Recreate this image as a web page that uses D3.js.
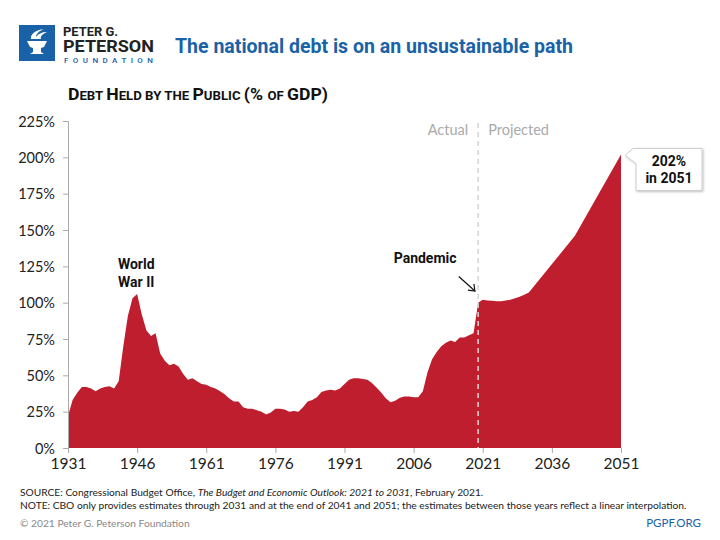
<!DOCTYPE html>
<html>
<head>
<meta charset="utf-8">
<script src="https://cdn.jsdelivr.net/npm/d3@7"></script>
<style>
  body { margin: 0; background: #fff; }
  svg { display: block; }
</style>
</head>
<body>
<div id="wrapper"></div>
<script>
// debt held by the public, % of GDP
const years = [
  1931, 1932, 1933, 1934, 1935, 1936, 1937, 1938, 1939, 1940,
  1941, 1942, 1943, 1944, 1945, 1946, 1947, 1948, 1949, 1950,
  1951, 1952, 1953, 1954, 1955, 1956, 1957, 1958, 1959, 1960,
  1961, 1962, 1963, 1964, 1965, 1966, 1967, 1968, 1969, 1970,
  1971, 1972, 1973, 1974, 1975, 1976, 1977, 1978, 1979, 1980,
  1981, 1982, 1983, 1984, 1985, 1986, 1987, 1988, 1989, 1990,
  1991, 1992, 1993, 1994, 1995, 1996, 1997, 1998, 1999, 2000,
  2001, 2002, 2003, 2004, 2005, 2006, 2007, 2008, 2009, 2010,
  2011, 2012, 2013, 2014, 2015, 2016, 2017, 2018, 2019, 2020,
  2021, 2022, 2023, 2024, 2025, 2026, 2027, 2028, 2029, 2030,
  2031, 2041, 2051
];
const debt = [
  22, 33, 38, 42, 42, 41, 39, 41, 42, 42.5,
  41, 46, 70, 91, 103, 106, 92, 81, 77, 79,
  65, 60, 57, 58, 56, 51, 47, 48, 46, 44,
  43.5, 42, 41, 39, 37, 34, 32, 32, 28, 27,
  27, 26, 25, 23, 24.5, 27, 27, 26.5, 25, 25.5,
  25, 28, 32, 33, 35, 38.5, 39.5, 40, 39.5, 41,
  44, 47, 48, 48, 47.5, 47, 44.5, 41.5, 38, 34,
  31.5, 32.5, 34.5, 35.5, 35.5, 35, 35, 39, 52, 61,
  66, 70, 72.5, 74, 73, 76, 76, 77.5, 79, 100,
  102, 101.5, 101.3, 101, 101, 101.5, 102, 103, 104, 105.5,
  107, 146, 202
];
const yTicks = [0, 25, 50, 75, 100, 125, 150, 175, 200, 225];
const xTicks = [1931, 1946, 1961, 1976, 1991, 2006, 2021, 2036, 2051];
const splitYear = 2020;

const dataset = years.map((y, i) => ({ year: y, value: debt[i] }));

const red = "#be1e2d";
const blue = "#1a62a8";

let dimensions = {
  width: 720,
  height: 540,
  margin: { top: 121, right: 99, bottom: 92, left: 68 },
};
dimensions.boundedWidth = dimensions.width - dimensions.margin.left - dimensions.margin.right;
dimensions.boundedHeight = dimensions.height - dimensions.margin.top - dimensions.margin.bottom;

const wrapper = d3.select("#wrapper")
  .append("svg")
  .attr("width", dimensions.width)
  .attr("height", dimensions.height)
  .style("font-family", "Lato, 'Open Sans', sans-serif");

// shrink a text's font until it fits a width
function fitWidth(sel, width) {
  const node = sel.node();
  let size = parseFloat(sel.attr("font-size"));
  const w = node.getComputedTextLength();
  if (w > width) sel.attr("font-size", (size * width / w).toFixed(2));
  return sel;
}

// header / logo
const logo = wrapper.append("g");
logo.append("rect")
  .attr("x", 19).attr("y", 25).attr("width", 36).attr("height", 36)
  .attr("fill", blue);
// torch
logo.append("path")
  .attr("d", "M27,41 L47,41 L44,47 L41,48 L41,52 L44,54 L30,54 L33,52 L33,48 L30,47 Z")
  .attr("fill", "#fff");
logo.append("path")
  .attr("d", "M31,39 C30,34 36,30 44,29 C39,31 36,34 36,37 C38,34 42,32 47,32 C42,34 40,37 41,39 Z")
  .attr("fill", "#fff");

logo.append("text").attr("x", 63).attr("y", 35.5)
  .attr("font-family", "Roboto, sans-serif").attr("font-weight", 700)
  .attr("font-size", 13.5).attr("fill", "#222")
  .attr("textLength", 55).attr("lengthAdjust", "spacingAndGlyphs")
  .text("PETER G.");
logo.append("text").attr("x", 63).attr("y", 52)
  .attr("font-family", "Roboto, sans-serif").attr("font-weight", 700)
  .attr("font-size", 16.5).attr("fill", "#222")
  .attr("textLength", 91).attr("lengthAdjust", "spacingAndGlyphs")
  .text("PETERSON");
logo.append("text").attr("x", 64).attr("y", 62.5)
  .attr("font-family", "Roboto, sans-serif").attr("font-weight", 500)
  .attr("font-size", 8).attr("fill", blue)
  .attr("textLength", 89).attr("lengthAdjust", "spacing")
  .text("FOUNDATION");

wrapper.append("text")
  .attr("x", 175).attr("y", 53)
  .attr("font-family", "Roboto, sans-serif").attr("font-weight", 700)
  .attr("font-size", 20).attr("fill", blue)
  .attr("textLength", 398).attr("lengthAdjust", "spacingAndGlyphs")
  .text("The national debt is on an unsustainable path");

// subtitle in small caps
const subtitle = wrapper.append("text")
  .attr("x", 68).attr("y", 100)
  .attr("font-family", "Roboto, sans-serif").attr("font-weight", 700)
  .attr("fill", "#111")
  .attr("textLength", 260).attr("lengthAdjust", "spacingAndGlyphs");
[["D", 16], ["EBT ", 12], ["H", 16], ["ELD BY THE ", 12], ["P", 16],
 ["UBLIC ", 12], ["(% ", 16], ["OF ", 12], ["GDP)", 16]]
  .forEach(([t, s]) => subtitle.append("tspan").attr("font-size", s).text(t));

const bounds = wrapper.append("g")
  .style("transform", `translate(${dimensions.margin.left}px, ${dimensions.margin.top}px)`);

// scales
const xAccessor = d => d.year;
const yAccessor = d => d.value;

const xScale = d3.scaleLinear()
  .domain([1931, 2051])
  .range([0, dimensions.boundedWidth]);

const yScale = d3.scaleLinear()
  .domain([0, 225])
  .range([dimensions.boundedHeight, 0]);

const area = d3.area()
  .x(d => xScale(xAccessor(d)))
  .y0(yScale(0))
  .y1(d => yScale(yAccessor(d)));

bounds.append("path")
  .datum(dataset)
  .attr("d", area)
  .attr("fill", red);

// axes
const yAxis = bounds.append("g")
  .call(d3.axisLeft(yScale).tickValues(yTicks).tickSize(5).tickFormat(d => d + "%"));
const xAxis = bounds.append("g")
  .style("transform", `translateY(${dimensions.boundedHeight}px)`)
  .call(d3.axisBottom(xScale).tickValues(xTicks).tickSize(5).tickFormat(d3.format("d")));

[yAxis, xAxis].forEach(ax => {
  ax.select(".domain").attr("stroke", "#aaa");
  ax.selectAll(".tick line").attr("stroke", "#aaa");
  ax.selectAll("text").attr("fill", "#222").attr("font-size", 14.5)
    .attr("font-family", "Lato, sans-serif");
});
yAxis.selectAll("text").attr("x", -13).attr("dy", "0.35em");
xAxis.selectAll("text").attr("y", 10).attr("font-size", 15.5);
xAxis.select(".domain").remove();

// actual / projected split
const splitX = xScale(splitYear);
bounds.append("line")
  .attr("x1", splitX).attr("x2", splitX)
  .attr("y1", 2).attr("y2", dimensions.boundedHeight)
  .attr("stroke", "#d4d4d4").attr("stroke-width", 1.5)
  .attr("stroke-dasharray", "5,4");
bounds.append("text")
  .attr("x", splitX - 10).attr("y", 14)
  .attr("text-anchor", "end").attr("font-size", 14.5).attr("fill", "#aaa")
  .text("Actual");
bounds.append("text")
  .attr("x", splitX + 10).attr("y", 14)
  .attr("font-size", 14.5).attr("fill", "#aaa")
  .text("Projected");

// annotations
const wwii = bounds.append("text")
  .attr("text-anchor", "middle").attr("font-weight", 700)
  .attr("font-size", 14).attr("fill", "#111")
  .attr("font-family", "Roboto, sans-serif");
wwii.append("tspan").attr("x", xScale(1945.8)).attr("y", yScale(123)).text("World");
wwii.append("tspan").attr("x", xScale(1945.8)).attr("y", yScale(111)).text("War II");

bounds.append("text")
  .attr("x", xScale(2008.5)).attr("y", yScale(127))
  .attr("text-anchor", "middle").attr("font-weight", 700)
  .attr("font-size", 14).attr("fill", "#111")
  .attr("font-family", "Roboto, sans-serif")
  .text("Pandemic");

// arrow
const ax1 = xScale(2015.8), ay1 = yScale(118);
const ax2 = xScale(2019.3), ay2 = yScale(108);
bounds.append("line")
  .attr("x1", ax1).attr("y1", ay1).attr("x2", ax2).attr("y2", ay2)
  .attr("stroke", "#111").attr("stroke-width", 1.2);
bounds.append("path")
  .attr("d", `M${ax2 - 7},${ay2 - 1} L${ax2},${ay2} L${ax2 - 1},${ay2 - 7}`)
  .attr("fill", "none").attr("stroke", "#111").attr("stroke-width", 1.2);

// callout for the last value
const last = dataset[dataset.length - 1];
const px = xScale(last.year) + 4, py = yScale(last.value) + 1;
const bx = px + 11, by = py - 7, bw = 66, bh = 42;
const defs = wrapper.append("defs");
defs.append("filter").attr("id", "shadow")
  .attr("x", "-20%").attr("y", "-20%").attr("width", "150%").attr("height", "150%")
  .append("feDropShadow")
  .attr("dx", 1).attr("dy", 1).attr("stdDeviation", 1.2)
  .attr("flood-color", "#000").attr("flood-opacity", 0.25);
bounds.append("path")
  .attr("d", `M${bx},${by} L${bx + bw},${by} L${bx + bw},${by + bh} L${bx},${by + bh} L${bx},${py + 8} L${px},${py} L${bx - 3},${by} Z`)
  .attr("fill", "#fff").attr("stroke", "#ccc").attr("stroke-width", 1)
  .attr("filter", "url(#shadow)");
const callout = bounds.append("text")
  .attr("text-anchor", "middle").attr("font-weight", 700)
  .attr("font-size", 14).attr("fill", "#111")
  .attr("font-family", "Roboto, sans-serif");
callout.append("tspan").attr("x", bx + bw / 2).attr("y", by + 18).text(last.value + "%");
callout.append("tspan").attr("x", bx + bw / 2).attr("y", by + 35).text("in " + last.year);

// footer
const foot = wrapper.append("g")
  .attr("font-family", "Lato, sans-serif").attr("fill", "#222");
const src = foot.append("text").attr("x", 20).attr("y", 496).attr("font-size", 11);
src.append("tspan").text("SOURCE: Congressional Budget Office, ");
src.append("tspan").attr("font-style", "italic").text("The Budget and Economic Outlook: 2021 to 2031");
src.append("tspan").text(", February 2021.");
const note = foot.append("text").attr("x", 20).attr("y", 509).attr("font-size", 11)
  .text("NOTE: CBO only provides estimates through 2031 and at the end of 2041 and 2051; the estimates between those years reflect a linear interpolation.");
fitWidth(note, 667);
src.attr("font-size", note.attr("font-size"));
foot.append("text").attr("x", 20).attr("y", 527)
  .attr("fill", "#888").attr("font-size", note.attr("font-size"))
  .text("© 2021 Peter G. Peterson Foundation");
foot.append("text").attr("x", 701).attr("y", 527)
  .attr("text-anchor", "end").attr("fill", blue).attr("font-size", 11.5)
  .text("PGPF.ORG");
</script>
</body>
</html>
